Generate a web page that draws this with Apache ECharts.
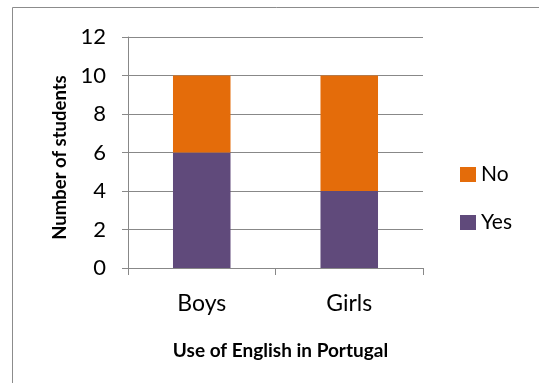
<!DOCTYPE html>
<html>
<head>
<meta charset="utf-8">
<script src="https://cdn.jsdelivr.net/npm/echarts@6/dist/echarts.min.js"></script>
<style>
  html, body { margin: 0; padding: 0; background: #fff; }
  #chart { width: 539px; height: 383px; }
</style>
</head>
<body>
<div id="chart"></div>
<script>
// Survey: use of English in Portugal, by group
const categories = ['Boys', 'Girls'];
const yesValues = [6, 4];
const noValues = [4, 6];
const yTicks = { min: 0, max: 12, interval: 2 };

const FONT = 'Lato, "Liberation Sans", sans-serif';
const GRID_GREY = '#888888';

const chart = echarts.init(document.getElementById('chart'), null, { renderer: 'canvas' });

chart.setOption({
  animation: false,
  backgroundColor: '#ffffff',
  graphic: [{
    type: 'rect',
    shape: { x: 12.5, y: 7.5, width: 600, height: 500 },
    style: { fill: 'none', stroke: '#8c8c8c', lineWidth: 1 },
    silent: true
  }],
  grid: { left: 128, right: 116, top: 37, bottom: 115, containLabel: false },
  legend: {
    orient: 'vertical',
    left: 455,
    top: 159,
    itemWidth: 16,
    itemHeight: 15,
    itemGap: 27,
    data: ['No', 'Yes'],
    icon: 'rect',
    textStyle: { fontFamily: FONT, fontSize: 21, color: '#000' }
  },
  xAxis: {
    type: 'category',
    data: categories,
    name: 'Use of English in Portugal',
    nameLocation: 'middle',
    nameGap: 73,
    nameTextStyle: { fontFamily: FONT, fontSize: 19, fontWeight: 'bold', color: '#000', padding: [0, 0, 0, 10] },
    axisLine: { lineStyle: { color: GRID_GREY, width: 1 } },
    axisTick: { show: true, length: 7, lineStyle: { color: GRID_GREY } },
    axisLabel: { fontFamily: FONT, fontSize: 23, color: '#000', margin: 24 }
  },
  yAxis: {
    type: 'value',
    min: yTicks.min,
    max: yTicks.max,
    interval: yTicks.interval,
    name: 'Number of students',
    nameLocation: 'middle',
    nameGap: 56,
    nameTextStyle: { fontFamily: FONT, fontSize: 18.5, fontWeight: 'bold', color: '#000', padding: [0, 10, 0, 0] },
    axisLine: { show: true, lineStyle: { color: GRID_GREY, width: 1 } },
    axisTick: { show: true, length: 6, lineStyle: { color: GRID_GREY } },
    axisLabel: { fontFamily: FONT, fontSize: 22, color: '#000', margin: 22 },
    splitLine: { show: true, lineStyle: { color: GRID_GREY, width: 1 } }
  },
  series: [
    {
      name: 'Yes',
      type: 'bar',
      stack: 'total',
      data: yesValues,
      barWidth: '39%',
      itemStyle: { color: '#604a7b' }
    },
    {
      name: 'No',
      type: 'bar',
      stack: 'total',
      data: noValues,
      barWidth: '39%',
      itemStyle: { color: '#e46c0a' }
    }
  ]
});
</script>
</body>
</html>
